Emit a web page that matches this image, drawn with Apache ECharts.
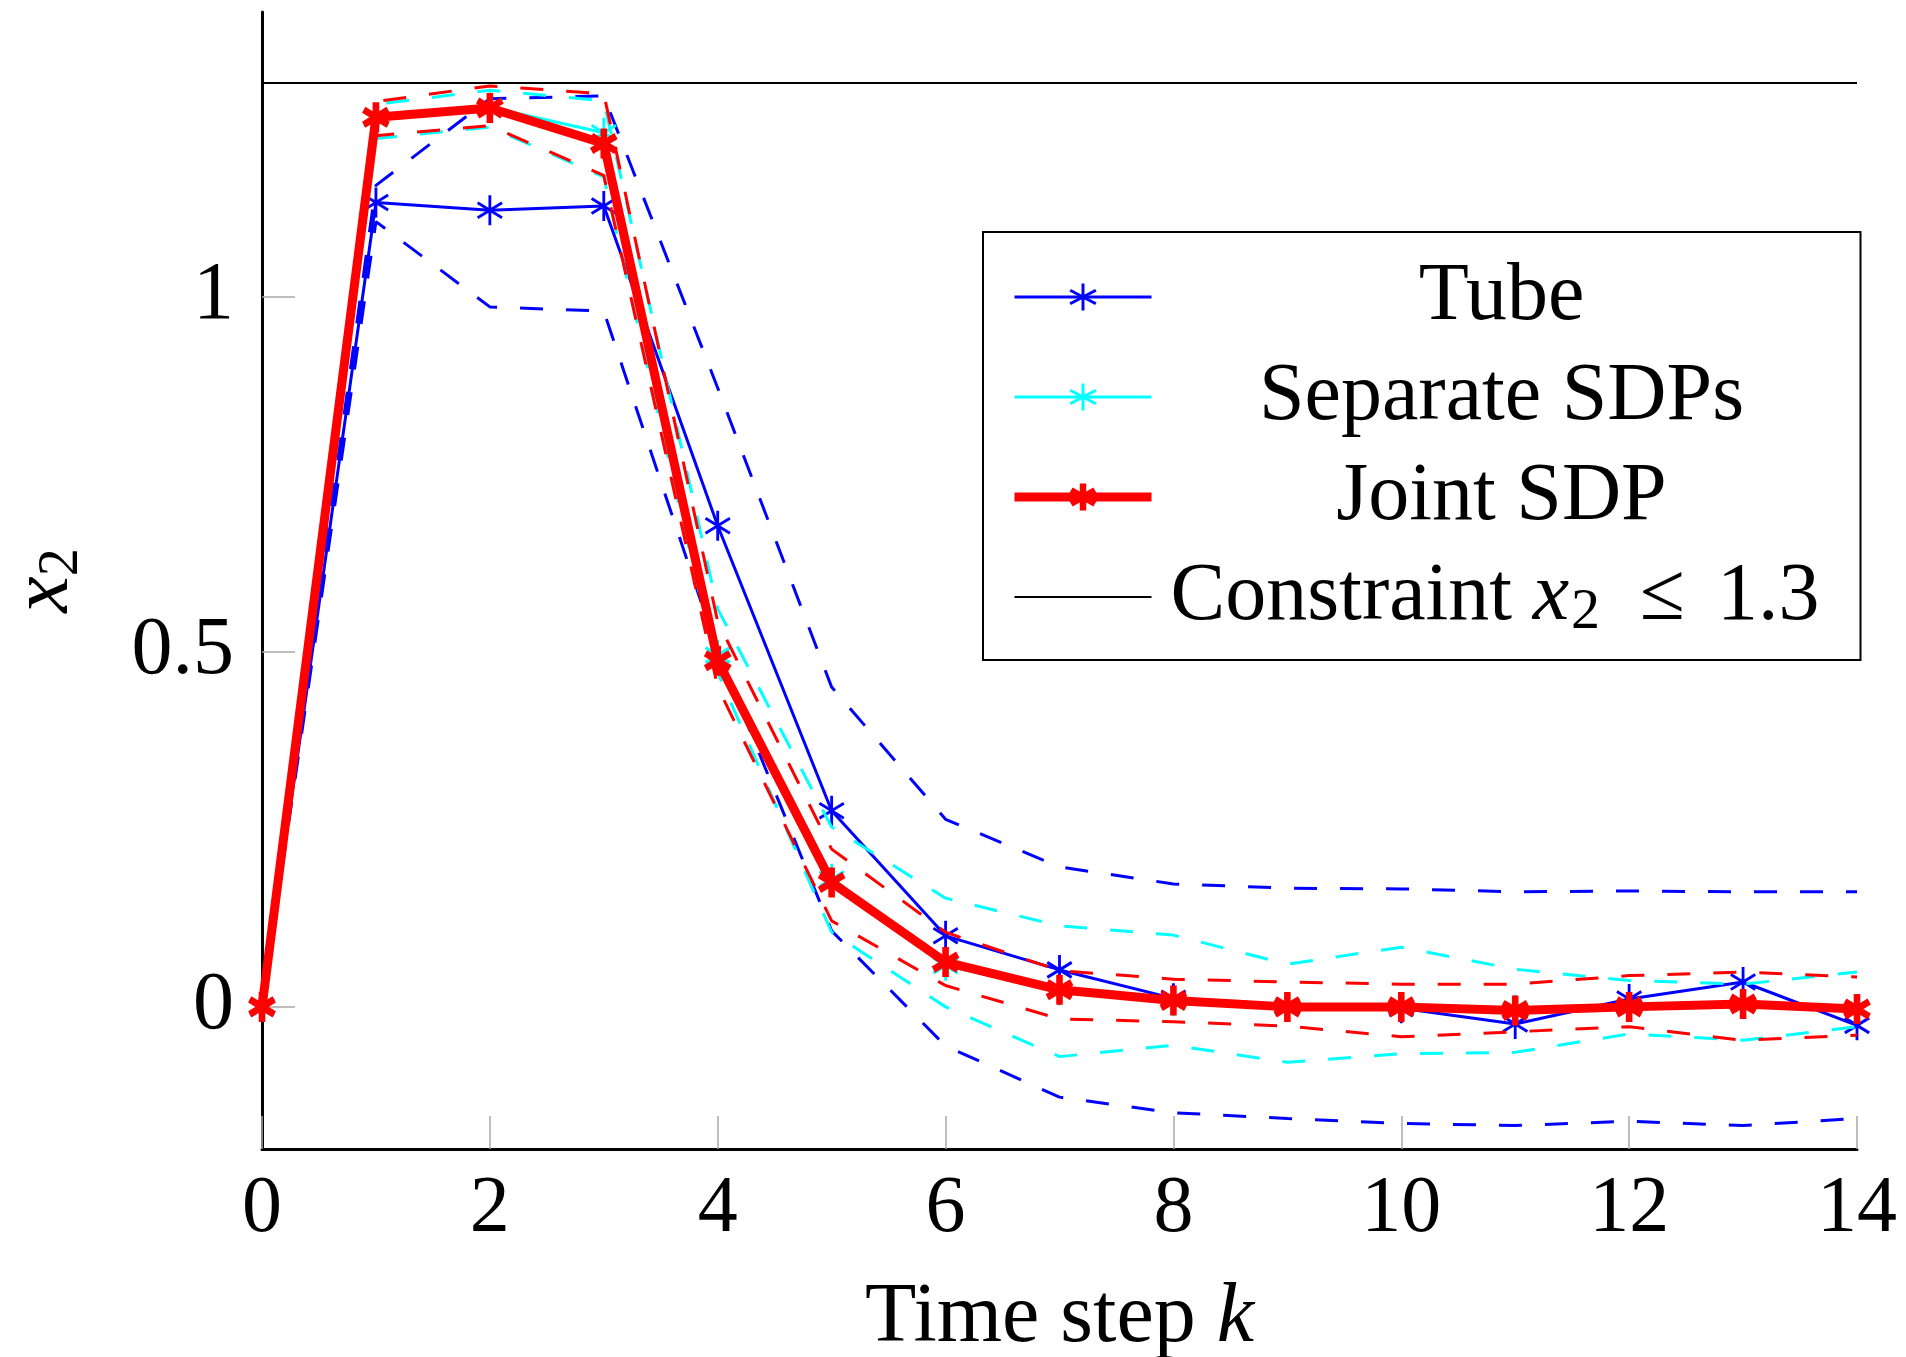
<!DOCTYPE html>
<html>
<head>
<meta charset="utf-8">
<script src="https://cdn.jsdelivr.net/npm/echarts@6.0.0/dist/echarts.min.js"></script>
<style>
  html, body { margin: 0; padding: 0; background: #fff; }
  #chart { width: 1906px; height: 1357px; }
</style>
</head>
<body>
<div id="chart"></div>
<script>
// time steps k
const steps = [0, 1, 2, 3, 4, 5, 6, 7, 8, 9, 10, 11, 12, 13, 14]

// x2 trajectories
const tube      = [0, 1.132, 1.121, 1.127, 0.677, 0.276, 0.100, 0.052, 0.012, 0.000, -0.002, -0.024, 0.011, 0.035, -0.026]
const tubeUpper = [0, 1.156, 1.278, 1.282, 0.871, 0.450, 0.264, 0.197, 0.173, 0.167, 0.166, 0.162, 0.163, 0.162, 0.162]
const tubeLower = [0, 1.105, 0.985, 0.979, 0.500, 0.107, -0.055, -0.127, -0.149, -0.157, -0.164, -0.167, -0.161, -0.167, -0.157]

const separate      = [0, 1.250, 1.266, 1.230, 0.495, 0.180, 0.058, 0.023, 0.008, 0.000, 0.000, -0.004, 0.000, 0.004, -0.003]
const separateUpper = [0, 1.270, 1.290, 1.275, 0.560, 0.253, 0.153, 0.114, 0.101, 0.060, 0.084, 0.053, 0.037, 0.032, 0.049]
const separateLower = [0, 1.222, 1.238, 1.168, 0.470, 0.105, 0.000, -0.070, -0.054, -0.078, -0.066, -0.064, -0.038, -0.047, -0.028]

const joint      = [0, 1.252, 1.265, 1.215, 0.487, 0.175, 0.063, 0.024, 0.009, 0.000, 0.000, -0.005, 0.000, 0.004, -0.003]
const jointUpper = [0, 1.274, 1.296, 1.285, 0.542, 0.222, 0.105, 0.051, 0.039, 0.035, 0.032, 0.032, 0.044, 0.049, 0.042]
const jointLower = [0, 1.226, 1.240, 1.170, 0.450, 0.121, 0.030, -0.017, -0.021, -0.027, -0.042, -0.035, -0.028, -0.047, -0.040]

const constraintX = [0, 14]
const constraintY = [1.3, 1.3]

const yTicks = [0, 0.5, 1]

const serif = '"Liberation Serif", "Times New Roman", serif'
const BLUE = '#0000ff', CYAN = '#00ffff', RED = '#ff0000'

// asterisk mark: three bars through the centre (vertical, +30deg, -30deg)
function asterisk(len, thick) {
  let parts = [90, 30, -30].map(a => {
    let r = a * Math.PI / 180
    let dx = Math.cos(r), dy = Math.sin(r), nx = -dy, ny = dx
    let h = len / 2, t = thick / 2
    let pts = [
      [h * dx + t * nx, h * dy + t * ny],
      [h * dx - t * nx, h * dy - t * ny],
      [-h * dx - t * nx, -h * dy - t * ny],
      [-h * dx + t * nx, -h * dy + t * ny]
    ]
    return 'M' + pts.map(p => p[0].toFixed(2) + ',' + p[1].toFixed(2)).join('L') + 'Z'
  })
  return 'path://' + parts.join('')
}

function pairs(ys) {
  return steps.map((k, i) => [k, ys[i]])
}

function bound(name, ys, color, z) {
  return {
    name: name,
    type: 'line',
    data: pairs(ys),
    symbol: 'none',
    z: z,
    lineStyle: { color: color, width: 3, type: [23, 23] },
    silent: true
  }
}

function mainLine(name, ys, color, width, len, thick, z) {
  return {
    name: name,
    type: 'line',
    data: pairs(ys),
    symbol: asterisk(len, thick),
    symbolSize: [len * 0.94, len],
    symbolKeepAspect: true,
    z: z,
    itemStyle: { color: color },
    lineStyle: { color: color, width: width }
  }
}

let chart = echarts.init(document.getElementById('chart'), null, { renderer: 'canvas' })

let option = {
  backgroundColor: '#fff',
  animation: false,
  grid: { left: 262, right: 49, top: 12, bottom: 208, outerBoundsMode: 'none' },
  xAxis: {
    type: 'value',
    min: 0,
    max: 14,
    interval: 2,
    name: 'Time step {i|k}',
    nameLocation: 'middle',
    nameGap: 128,
    nameTextStyle: {
      fontFamily: serif, fontSize: 84, color: '#000',
      rich: { i: { fontFamily: serif, fontSize: 84, fontStyle: 'italic', color: '#000' } }
    },
    axisLine: { onZero: false, lineStyle: { color: '#000', width: 3 } },
    axisTick: { inside: true, length: 33, lineStyle: { color: '#a8a8a8', width: 1.5 } },
    axisLabel: { fontFamily: serif, fontSize: 80, color: '#000', margin: 21 },
    splitLine: { show: false }
  },
  yAxis: {
    type: 'value',
    min: -0.2,
    max: 1.4,
    name: '{i|x}{s|2}',
    nameLocation: 'middle',
    nameRotate: 90,
    nameGap: 172,
    nameTextStyle: {
      rich: {
        i: { fontFamily: serif, fontSize: 82, fontStyle: 'italic', color: '#000', lineHeight: 90 },
        s: { fontFamily: serif, fontSize: 56, color: '#000', lineHeight: 54, verticalAlign: 'bottom' }
      }
    },
    axisLine: { show: true, onZero: false, lineStyle: { color: '#000', width: 3 } },
    axisTick: { inside: true, length: 33, customValues: yTicks, lineStyle: { color: '#a8a8a8', width: 1.5 } },
    axisLabel: { fontFamily: serif, fontSize: 82, color: '#000', margin: 28, customValues: yTicks },
    splitLine: { show: false }
  },
  legend: {
    data: [
      { name: 'Tube', lineStyle: { width: 3 } },
      { name: 'Separate SDPs', lineStyle: { width: 3 } },
      { name: 'Joint SDP', lineStyle: { width: 9 } },
      { name: 'Constraint', lineStyle: { width: 2 }, itemStyle: { opacity: 0 } }
    ],
    orient: 'vertical',
    left: 983,
    top: 232,
    padding: [24, 14, 18, 27],
    itemGap: 18,
    itemWidth: 137,
    itemHeight: 34,
    selectedMode: false,
    borderColor: '#000',
    borderWidth: 2,
    backgroundColor: '#fff',
    formatter: function (name) {
      if (name === 'Constraint') return '{p|}{w2|Constraint }{i|x}{s|2}{le|≤}{w2|1.3}'
      return '{w|' + name + '}'
    },
    textStyle: {
      fontFamily: serif, fontSize: 82, color: '#000',
      rich: {
        w: { fontFamily: serif, fontSize: 82, color: '#000', width: 690, align: 'center', lineHeight: 90 },
        p: { width: 14, lineHeight: 90 },
        w2: { fontFamily: serif, fontSize: 82, color: '#000', lineHeight: 90 },
        i: { fontFamily: serif, fontSize: 82, fontStyle: 'italic', color: '#000', lineHeight: 90 },
        s: { fontFamily: serif, fontSize: 58, color: '#000', lineHeight: 56, verticalAlign: 'bottom', padding: [0, 8, 0, 2] },
        le: { fontFamily: serif, fontSize: 82, color: '#000', lineHeight: 90, padding: [0, 32, 0, 32] }
      }
    }
  },
  series: [
    bound('Tube upper', tubeUpper, BLUE, 2),
    bound('Tube lower', tubeLower, BLUE, 2),
    mainLine('Tube', tube, BLUE, 3, 30, 3, 3),
    bound('Separate upper', separateUpper, CYAN, 4),
    bound('Separate lower', separateLower, CYAN, 4),
    mainLine('Separate SDPs', separate, CYAN, 3, 30, 3, 5),
    bound('Joint upper', jointUpper, RED, 6),
    bound('Joint lower', jointLower, RED, 6),
    mainLine('Joint SDP', joint, RED, 9, 30, 7, 7),
    {
      name: 'Constraint',
      type: 'line',
      data: constraintX.map((x, i) => [x, constraintY[i]]),
      symbol: 'none',
      z: 8,
      itemStyle: { color: '#000' },
      lineStyle: { color: '#000', width: 2 }
    }
  ]
}

chart.setOption(option)
</script>
</body>
</html>
